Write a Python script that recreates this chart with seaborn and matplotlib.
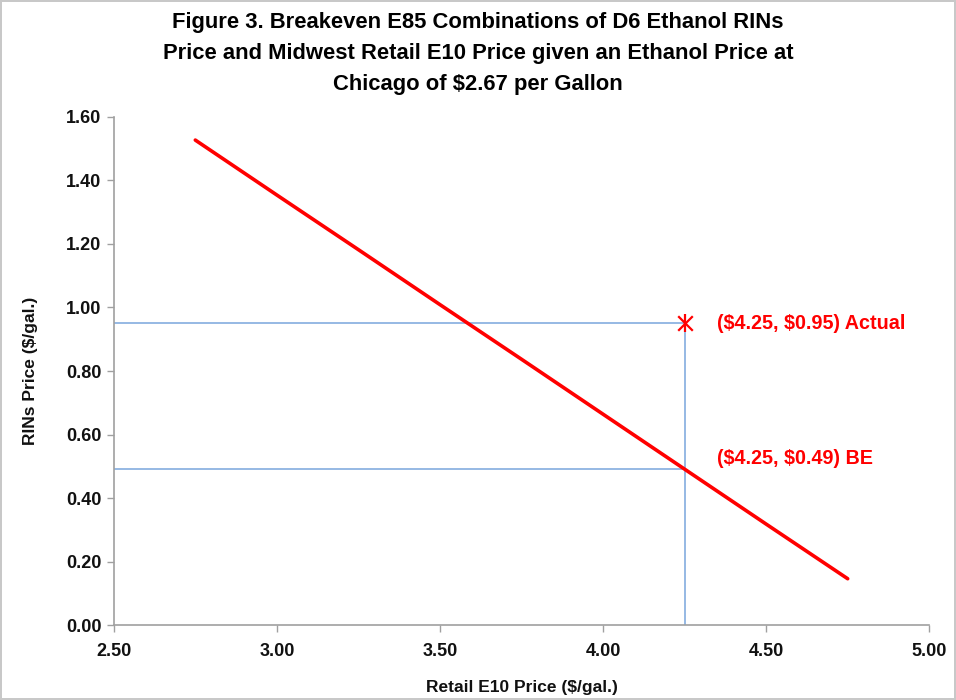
import matplotlib
matplotlib.use("Agg")
import matplotlib.pyplot as plt
import seaborn as sns
import pandas as pd

# Data
e10_price = [2.75, 3.00, 3.25, 3.50, 3.75, 4.00, 4.25, 4.50, 4.75]
rins_price = [1.527, 1.354, 1.182, 1.009, 0.837, 0.664, 0.491, 0.318, 0.146]
actual_point = (4.25, 0.95)
be_point = (4.25, 0.49)
actual_label = r"(\$4.25, \$0.95) Actual"
be_label = r"(\$4.25, \$0.49) BE"
x_ticks = [2.50, 3.00, 3.50, 4.00, 4.50, 5.00]
y_ticks = [0.00, 0.20, 0.40, 0.60, 0.80, 1.00, 1.20, 1.40, 1.60]
title = ("Figure 3. Breakeven E85 Combinations of D6 Ethanol RINs\n"
         "Price and Midwest Retail E10 Price given an Ethanol Price at\n"
         r"Chicago of \$2.67 per Gallon")

sns.set_theme(style="white")
plt.rcParams['font.family'] = ['Liberation Sans', 'DejaVu Sans']
plt.rcParams['text.color'] = '#111111'
plt.rcParams['axes.labelcolor'] = '#111111'
plt.rcParams['xtick.labelcolor'] = '#111111'
plt.rcParams['ytick.labelcolor'] = '#111111'

df = pd.DataFrame({"e10": e10_price, "rins": rins_price})

fig = plt.figure(figsize=(9.56, 7.0), dpi=100)
fig.patch.set_edgecolor("#c8c8c8")
fig.patch.set_linewidth(1.5)
ax = fig.add_axes([0.119, 0.107, 0.853, 0.726])

ref_color = "#8db3e2"
ax.plot([x_ticks[0], actual_point[0]], [actual_point[1]] * 2, color=ref_color, lw=1.3, zorder=1)
ax.plot([x_ticks[0], be_point[0]], [be_point[1]] * 2, color=ref_color, lw=1.3, zorder=1)
ax.plot([actual_point[0]] * 2, [0, actual_point[1]], color=ref_color, lw=1.3, zorder=1)

sns.lineplot(data=df, x="e10", y="rins", color="#ff0000", lw=2.6, ax=ax, zorder=3)

ax.scatter([actual_point[0]], [actual_point[1]], marker="x", s=110, color="#ff0000", linewidths=1.6, zorder=4)
ax.scatter([actual_point[0]], [actual_point[1]], marker="|", s=170, color="#ff0000", linewidths=1.6, zorder=4)

ax.text(4.35, actual_point[1], actual_label, color="#ff0000", fontsize=14.2,
        fontweight="bold", va="center", ha="left")
ax.text(4.35, 0.525, be_label, color="#ff0000", fontsize=14.2,
        fontweight="bold", va="center", ha="left")

ax.set_xlim(2.5, 5.0)
ax.set_ylim(0, 1.6)
ax.set_xticks(x_ticks)
ax.set_yticks(y_ticks)
ax.set_xticklabels([f"{v:.2f}" for v in x_ticks], fontsize=13, fontweight="bold")
ax.set_yticklabels([f"{v:.2f}" for v in y_ticks], fontsize=13, fontweight="bold")
ax.tick_params(axis="both", which="major", length=5, width=1, color="#a0a0a0",
               direction="out", bottom=True, left=True, pad=4)
ax.tick_params(axis="x", pad=8)

for side in ["top", "right"]:
    ax.spines[side].set_visible(False)
for side in ["left", "bottom"]:
    ax.spines[side].set_color("#a0a0a0")
    ax.spines[side].set_linewidth(1.2)

ax.set_xlabel("Retail E10 Price ($/gal.)", fontsize=12.5, fontweight="bold", labelpad=14)
ax.set_ylabel("RINs Price ($/gal.)", fontsize=12.5, fontweight="bold", labelpad=20)
ax.grid(False)

fig.text(0.50, 0.983, title, fontsize=15.8, fontweight="bold", ha="center", va="top",
         linespacing=1.62, color="#000000")

fig.savefig("out.png", dpi=100, edgecolor=fig.get_edgecolor())
